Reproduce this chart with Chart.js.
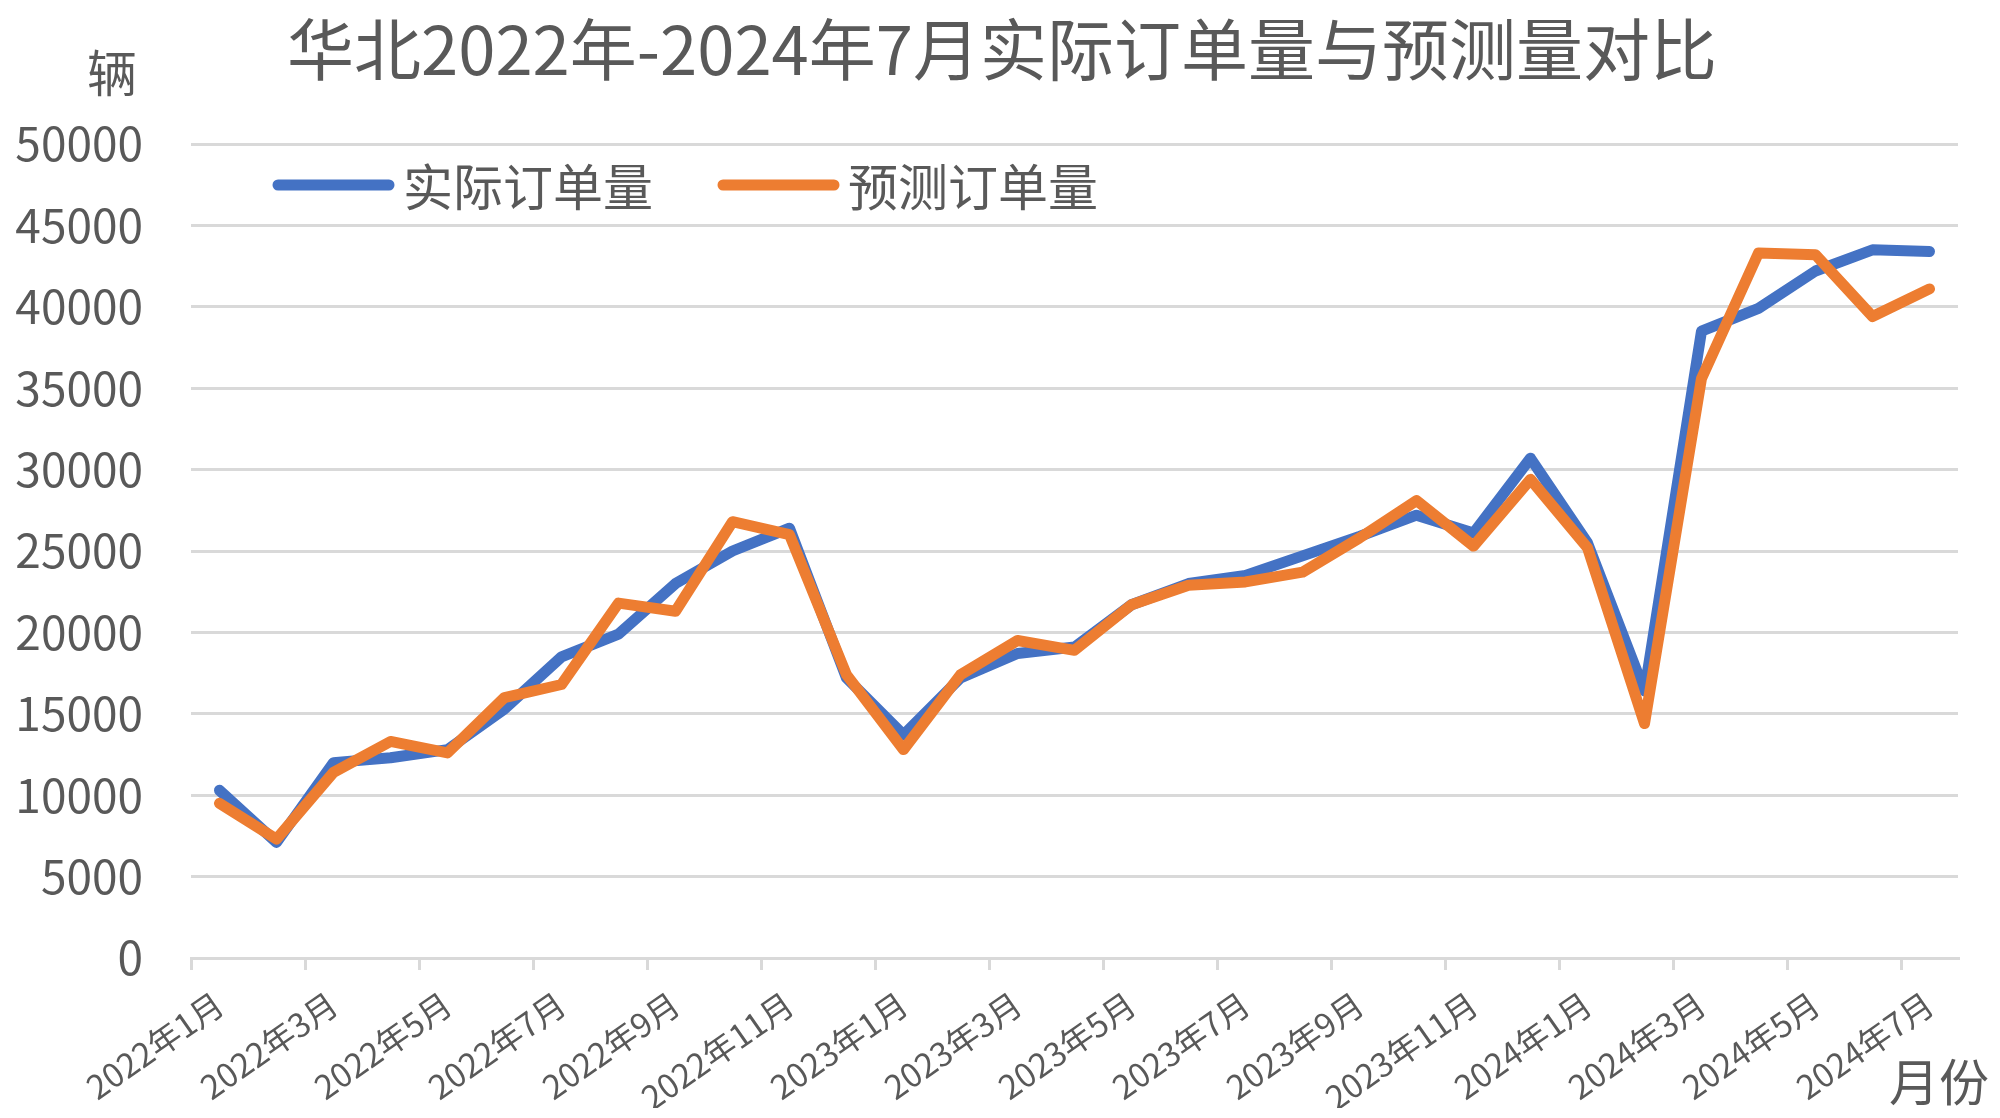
<!DOCTYPE html>
<html lang="zh">
  <head>
    <meta charset="UTF-8" />
    <title>华北订单量对比</title>
    <script src="https://cdn.jsdelivr.net/npm/chart.js@4/dist/chart.umd.min.js"></script>
    <style>
      html, body { margin: 0; padding: 0; background: #fff; }
      #wrap { width: 2000px; height: 1118px; }
    </style>
  </head>
  <body>
    <div id="wrap"><canvas id="myChart" width="2000" height="1118"></canvas></div>

    <script>
      const months = [
        "2022年1月", "2022年2月", "2022年3月", "2022年4月", "2022年5月", "2022年6月",
        "2022年7月", "2022年8月", "2022年9月", "2022年10月", "2022年11月", "2022年12月",
        "2023年1月", "2023年2月", "2023年3月", "2023年4月", "2023年5月", "2023年6月",
        "2023年7月", "2023年8月", "2023年9月", "2023年10月", "2023年11月", "2023年12月",
        "2024年1月", "2024年2月", "2024年3月", "2024年4月", "2024年5月", "2024年6月",
        "2024年7月",
      ];
      const actual = [
        10300, 7100, 12000, 12300, 12800, 15300, 18500, 19900, 23000, 25000, 26400,
        17200, 13700, 17200, 18700, 19100, 21700, 23000, 23500, 24700, 25900, 27200,
        26100, 30700, 25500, 16400, 38500, 39900, 42200, 43500, 43400,
      ];
      const forecast = [
        9500, 7300, 11400, 13300, 12600, 16000, 16800, 21800, 21300, 26800, 26000,
        17400, 12800, 17400, 19500, 18900, 21700, 22900, 23100, 23700, 25800, 28100,
        25300, 29400, 25200, 14400, 35600, 43300, 43200, 39400, 41100,
      ];
      const seriesNames = ["实际订单量", "预测订单量"];
      const titleText = "华北2022年-2024年7月实际订单量与预测量对比";
      const yName = "辆";
      const xName = "月份";

      const textColor = "#595959";
      const gridColor = "#d9d9d9";
      const fontFamily = '"Noto Sans CJK SC", "Noto Sans", sans-serif';

      // title, axis names and the legend inside the plot, like the Excel original
      const overlay = {
        id: "overlay",
        afterDraw(chart) {
          const ctx = chart.ctx;
          const area = chart.chartArea;
          ctx.save();
          ctx.fillStyle = textColor;
          ctx.textAlign = "center";
          ctx.textBaseline = "middle";
          ctx.font = "67px " + fontFamily;
          ctx.fillText(titleText, 1002, 50);

          ctx.font = "50px " + fontFamily;
          ctx.fillText(yName, area.left - 79, area.top - 71);
          ctx.fillText(xName, area.right - 19, area.bottom + 124);

          let x = area.left + 87;
          const y = area.top + 41;
          ctx.textAlign = "left";
          chart.data.datasets.forEach((ds) => {
            ctx.strokeStyle = ds.borderColor;
            ctx.lineWidth = 11;
            ctx.lineCap = "round";
            ctx.beginPath();
            ctx.moveTo(x, y);
            ctx.lineTo(x + 111, y);
            ctx.stroke();
            ctx.fillText(ds.label, x + 125, y + 2);
            x += 445;
          });
          ctx.restore();
        },
      };

      const ctx = document.getElementById("myChart").getContext("2d");
      const myChart = new Chart(ctx, {
        type: "line",
        data: {
          labels: months,
          datasets: [
            {
              label: seriesNames[0],
              data: actual,
              borderColor: "#4472C4",
              backgroundColor: "#4472C4",
              borderWidth: 11,
              order: 2,
            },
            {
              label: seriesNames[1],
              data: forecast,
              borderColor: "#ED7D31",
              backgroundColor: "#ED7D31",
              borderWidth: 11,
              order: 1,
            },
          ],
        },
        options: {
          responsive: false,
          animation: false,
          devicePixelRatio: 1,
          layout: { padding: { left: 0, right: 42, top: 144, bottom: 10 } },
          elements: {
            point: { radius: 0, hoverRadius: 0 },
            line: { tension: 0, borderCapStyle: "round", borderJoinStyle: "round" },
          },
          plugins: {
            legend: { display: false },
            tooltip: { enabled: false },
            title: { display: false },
          },
          scales: {
            x: {
              type: "category",
              offset: true,
              afterFit(scale) { scale.height = 150; },
              grid: {
                offset: true,
                drawOnChartArea: false,
                drawTicks: true,
                tickLength: 12,
                lineWidth: 3,
                color: (c) => (c.index % 2 === 0 ? gridColor : "rgba(0,0,0,0)"),
              },
              border: { display: true, color: gridColor, width: 3 },
              ticks: {
                autoSkip: false,
                minRotation: 35,
                maxRotation: 35,
                padding: 14,
                color: textColor,
                font: { family: fontFamily, size: 33 },
                callback: function (value, index) {
                  return index % 2 === 0 ? this.getLabelForValue(value) : "";
                },
              },
            },
            y: {
              min: 0,
              max: 50000,
              afterFit(scale) { scale.width = 191; },
              grid: { color: gridColor, lineWidth: 3, drawTicks: false },
              border: { display: false },
              ticks: {
                stepSize: 5000,
                padding: 48,
                color: textColor,
                font: { family: fontFamily, size: 46 },
                callback: (value) => String(value),
              },
            },
          },
        },
        plugins: [overlay],
      });
    </script>
  </body>
</html>
